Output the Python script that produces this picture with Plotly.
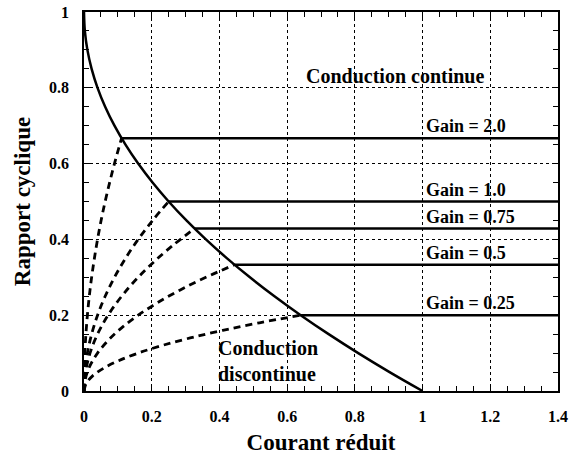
import plotly.graph_objects as go

# Boundary curve (limite conduction continue / discontinue)
boundary_x = [0, 0.0025, 0.01, 0.0225, 0.04, 0.0625, 0.09, 0.1225, 0.16, 0.2025, 0.25,
              0.3025, 0.36, 0.4225, 0.49, 0.5625, 0.64, 0.7225, 0.81, 0.9025, 1.0]
boundary_d = [1.0, 0.95, 0.9, 0.85, 0.8, 0.75, 0.7, 0.65, 0.6, 0.55, 0.5,
              0.45, 0.4, 0.35, 0.3, 0.25, 0.2, 0.15, 0.1, 0.05, 0.0]

gain_labels = ["Gain = 2.0", "Gain = 1.0", "Gain = 0.75", "Gain = 0.5", "Gain = 0.25"]
gain_d = [0.667, 0.5, 0.4286, 0.333, 0.2]
gain_xb = [0.111, 0.25, 0.3265, 0.444, 0.64]
x_max = 1.4

# Discontinuous-mode curves (dashed)
disc_x = [
    [0, 0.0011, 0.0044, 0.01, 0.0178, 0.0278, 0.04, 0.0544, 0.0711, 0.09, 0.111],
    [0, 0.0025, 0.01, 0.0225, 0.04, 0.0625, 0.09, 0.1225, 0.16, 0.2025, 0.25],
    [0, 0.0033, 0.0131, 0.0294, 0.0522, 0.0816, 0.1176, 0.16, 0.209, 0.2645, 0.3265],
    [0, 0.0044, 0.0178, 0.04, 0.0711, 0.1111, 0.16, 0.2178, 0.2844, 0.36, 0.444],
    [0, 0.0064, 0.0256, 0.0576, 0.1024, 0.16, 0.2304, 0.3136, 0.4096, 0.5184, 0.64],
]
disc_d = [
    [0, 0.067, 0.133, 0.2, 0.267, 0.333, 0.4, 0.467, 0.533, 0.6, 0.667],
    [0, 0.05, 0.1, 0.15, 0.2, 0.25, 0.3, 0.35, 0.4, 0.45, 0.5],
    [0, 0.0429, 0.0857, 0.1286, 0.1714, 0.2143, 0.2571, 0.3, 0.3429, 0.3857, 0.4286],
    [0, 0.0333, 0.0667, 0.1, 0.1333, 0.1667, 0.2, 0.2333, 0.2667, 0.3, 0.333],
    [0, 0.02, 0.04, 0.06, 0.08, 0.1, 0.12, 0.14, 0.16, 0.18, 0.2],
]

font_family = "Liberation Serif, serif"

fig = go.Figure()

fig.add_trace(go.Scatter(x=boundary_x, y=boundary_d, mode="lines",
                         line=dict(color="black", width=2.5, shape="spline"),
                         showlegend=False))

for xs, ds in zip(disc_x, disc_d):
    fig.add_trace(go.Scatter(x=xs, y=ds, mode="lines",
                             line=dict(color="black", width=2.8, dash="7px,5px", shape="spline"),
                             showlegend=False))

for xb, d in zip(gain_xb, gain_d):
    fig.add_trace(go.Scatter(x=[xb, x_max], y=[d, d], mode="lines",
                             line=dict(color="black", width=2.5),
                             showlegend=False))

for lbl, d in zip(gain_labels, gain_d):
    fig.add_annotation(x=1.005, y=d, text=lbl, showarrow=False,
                       xanchor="left", yanchor="bottom", yshift=0,
                       font=dict(family=font_family, size=18, color="black", weight="bold"))

fig.add_annotation(x=0.92, y=0.83, text="Conduction continue", showarrow=False,
                   xanchor="center", yanchor="middle",
                   font=dict(family=font_family, size=20, color="black", weight="bold"))
fig.add_annotation(x=0.39, y=0.08, text="Conduction<br>discontinue", showarrow=False,
                   xanchor="left", yanchor="middle", align="left",
                   font=dict(family=font_family, size=20, color="black", weight="bold"))

axis_common = dict(
    showline=True, linecolor="black", linewidth=1.5, mirror="ticks",
    ticks="inside", ticklen=6, tickcolor="black", tickwidth=1,
    showgrid=True, gridcolor="black", gridwidth=1, griddash="dot",
    zeroline=False, automargin=False,
    tickfont=dict(family=font_family, size=16, color="black", weight="bold"),
    minor=dict(ticks="inside", ticklen=5, tickcolor="black", dtick=0.05, showgrid=False),
)

fig.update_layout(
    width=569, height=459,
    margin=dict(l=84, r=11, t=12, b=68),
    paper_bgcolor="white", plot_bgcolor="white",
    font=dict(family=font_family, color="black"),
    xaxis=dict(range=[0, 1.4], dtick=0.2, tick0=0, ticklabelstandoff=10,
               title=dict(text="Courant réduit", standoff=10,
                          font=dict(family=font_family, size=23, color="black", weight="bold")),
               **axis_common),
    yaxis=dict(range=[0, 1], dtick=0.2, tick0=0, ticklabelstandoff=10,
               title=dict(text="Rapport cyclique", standoff=12,
                          font=dict(family=font_family, size=23, color="black", weight="bold")),
               **axis_common),
)

fig.write_html("out.html", config={"displayModeBar": False},
               post_script="document.body.style.margin='0';document.body.style.padding='0';")
